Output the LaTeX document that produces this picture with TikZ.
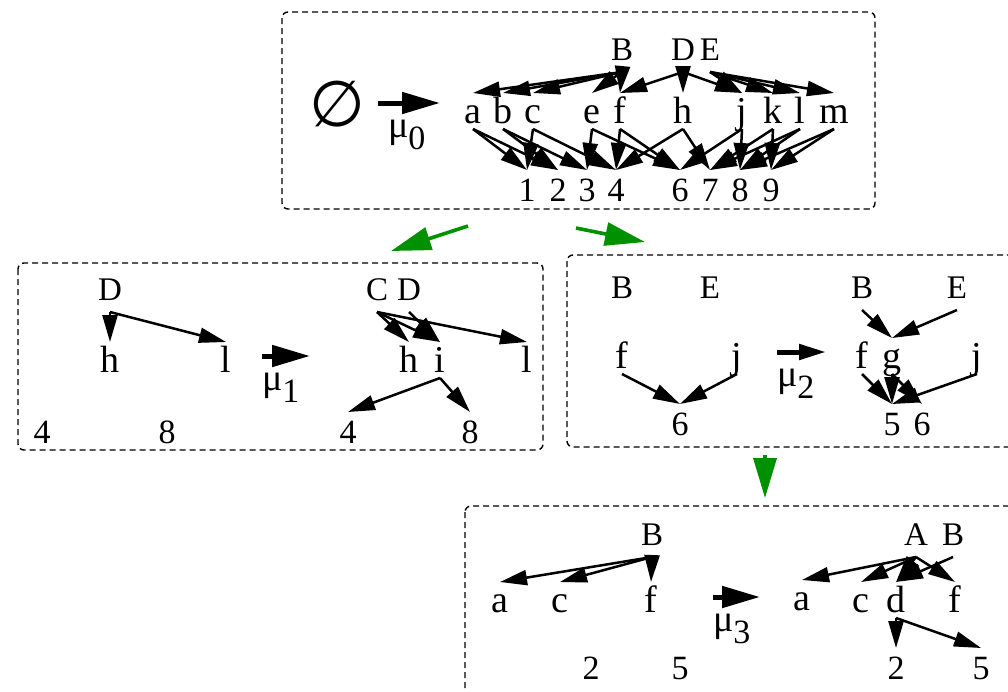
\documentclass[tikz,border=0pt]{standalone}
\usepackage{fontspec}
\setmainfont{Liberation Serif}
\newfontfamily\symfont{DejaVu Sans}
\usetikzlibrary{arrows.meta}
\definecolor{flowgreen}{RGB}{0,145,0}
\tikzset{
  up/.style={font=\fontsize{33}{33}\selectfont, inner sep=0pt, outer sep=0pt,
             text height=22pt, text depth=12pt, anchor=base},
  lo/.style={font=\fontsize{38}{38}\selectfont, inner sep=0pt, outer sep=0pt,
             text height=30pt, text depth=6pt, anchor=base},
  num/.style={font=\fontsize{34}{34}\selectfont, inner sep=0pt, outer sep=0pt,
             text height=31pt, text depth=0pt, anchor=base},
  mulbl/.style={inner sep=0pt, outer sep=0pt, anchor=base west},
  arr/.style={line width=2.5pt, -{Triangle[length=27pt,width=15pt]}},
  mut/.style={line width=5pt, -{Triangle[length=38pt,width=21pt]}},
  flow/.style={draw=flowgreen, line width=3.6pt, -{Triangle[length=40pt,width=23pt]}},
  panel/.style={draw, dash pattern=on 6pt off 4pt, line width=1.4pt, rounded corners=6pt}
}
\newcommand{\mutext}[1]{{\fontsize{38}{38}\selectfont μ}\raisebox{-12pt}{\fontsize{34}{34}\selectfont #1}}

\begin{document}
\begin{tikzpicture}[x=1pt,y=-1pt]
\useasboundingbox (0,0) rectangle (1008,691);
\clip (0,0) rectangle (1008,691);

% ---------- panels ----------
\draw[panel] (282,12) rectangle (875,209);
\draw[panel] (18,263) rectangle (543,450);
\draw[panel] (567,255) rectangle (1030,447);
\draw[panel] (465,506) rectangle (1030,720);

% ---------- green flow arrows ----------
\coordinate (g1s) at (468,226); \coordinate (g1e) at (391,251);
\coordinate (g2s) at (576,228); \coordinate (g2e) at (645,242);
\coordinate (g3s) at (765,455); \coordinate (g3e) at (765,498);
\draw[flow] (g1s) -- (g1e);
\draw[flow] (g2s) -- (g2e);
\draw[flow] (g3s) -- (g3e);

% ---------- top panel ----------
\node[font=\symfont\fontsize{64}{64}\selectfont, inner sep=0pt] (empty) at (337,104) {∅};
\coordinate (m0s) at (378,103); \coordinate (m0e) at (440,103);
\draw[mut] (m0s) -- (m0e);
\node[mulbl] (mu0) at (388,137) {\mutext{0}};

\node[up] (tB) at (622,60) {B};
\node[up] (tD) at (683,60) {D};
\node[up] (tE) at (710,60) {E};
\foreach \n/\x in {a/473,b/503,c/533,e/592,f/620,h/683,j/742,k/773,l/800,m/834}
  \node[lo] (t\n) at (\x,123) {\n};
\foreach \n/\x in {1/527,2/558,3/587,4/616,6/680,7/710,8/740,9/771}
  \node[num] (t\n) at (\x,201) {\n};

\foreach \s/\t in {tB/ta,tB/tb,tB/tc,tB/te,tB/tf,tD/tf,tD/th,tD/tj,
                   tE/tj,tE/tk,tE/tl,tE/tm}
  \draw[arr] (\s.south) -- (\t.north);
\foreach \s/\t in {ta/t1,ta/t2,tb/t2,tb/t3,tc/t1,tc/t4,te/t3,te/t6,tf/t4,tf/t6,
                   th/t4,th/t7,tj/t6,tj/t8,tk/t7,tk/t9,tl/t7,tl/t8,tm/t8,tm/t9}
  \draw[arr] (\s.south) -- (\t.north);

% ---------- left panel ----------
\node[up] (lD) at (110,300) {D};
\node[lo] (lh) at (110,372) {h};
\node[lo] (ll) at (226,372) {l};
\node[num] (l4) at (42,443) {4};
\node[num] (l8) at (167,443) {8};
\draw[arr] (lD.south) -- (lh.north);
\draw[arr] (lD.south) -- (ll.north);

\coordinate (m1s) at (262,356); \coordinate (m1e) at (310,356);
\draw[mut] (m1s) -- (m1e);
\node[mulbl] (mu1) at (262,390) {\mutext{1}};

\node[up] (lC) at (377,300) {C};
\node[up] (lDD) at (409,300) {D};
\node[lo] (lhh) at (409,372) {h};
\node[lo] (li) at (440,372) {i};
\node[lo] (lll) at (527,372) {l};
\node[num] (l44) at (348,443) {4};
\node[num] (l88) at (470,443) {8};
\foreach \s/\t in {lC/lhh,lC/li,lC/lll,lDD/li}
  \draw[arr] (\s.south) -- (\t.north);
\foreach \s/\t in {li/l44,li/l88}
  \draw[arr] (\s.south) -- (\t.north);

% ---------- right panel ----------
\node[up] (rB) at (622,298) {B};
\node[up] (rE) at (710,298) {E};
\node[lo] (rf) at (622,368) {f};
\node[lo] (rj) at (737,368) {j};
\node[num] (r6) at (680,435) {6};
\draw[arr] (rf.south) -- (r6.north);
\draw[arr] (rj.south) -- (r6.north);

\coordinate (m2s) at (777,352); \coordinate (m2e) at (826,352);
\draw[line width=5pt, -{Triangle[length=27pt,width=15pt]}] (m2s) -- (m2e);
\node[mulbl] (mu2) at (777,386) {\mutext{2}};

\node[up] (rBB) at (862,298) {B};
\node[up] (rEE) at (957,298) {E};
\node[lo] (rff) at (862,368) {f};
\node[lo] (rg) at (892,368) {g};
\node[lo] (rjj) at (977,368) {j};
\node[num] (r5) at (892,435) {5};
\node[num] (r66) at (922,435) {6};
\foreach \s/\t in {rBB/rg,rEE/rg}
  \draw[arr] (\s.south) -- (\t.north);
\foreach \s/\t in {rff/r5,rg/r5,rg/r66,rjj/r5}
  \draw[arr] (\s.south) -- (\t.north);

% ---------- bottom panel ----------
\node[up] (bB) at (652,545) {B};
\node[lo] (ba) at (500,612) {a};
\node[lo] (bc) at (560,612) {c};
\node[lo] (bf) at (651,612) {f};
\node[num] (b2) at (591,679) {2};
\node[num] (b5) at (680,679) {5};
\foreach \t in {ba,bc,bf}
  \draw[arr] (bB.south) -- (\t.north);

\coordinate (m3s) at (713,597); \coordinate (m3e) at (760,597);
\draw[mut] (m3s) -- (m3e);
\node[mulbl] (mu3) at (713,631) {\mutext{3}};

\node[up] (bA) at (916,545) {A};
\node[up] (bBB) at (953,545) {B};
\node[lo] (baa) at (802,610) {a};
\node[lo] (bcc) at (861,612) {c};
\node[lo] (bd) at (896,612) {d};
\node[lo] (bff) at (955,612) {f};
\node[num] (b22) at (896,679) {2};
\node[num] (b55) at (981,679) {5};
\foreach \s/\t in {bA/baa,bA/bcc,bA/bd,bA/bff,bBB/bd}
  \draw[arr] (\s.south) -- (\t.north);
\foreach \s/\t in {bd/b22,bd/b55}
  \draw[arr] (\s.south) -- (\t.north);
\end{tikzpicture}
\end{document}
